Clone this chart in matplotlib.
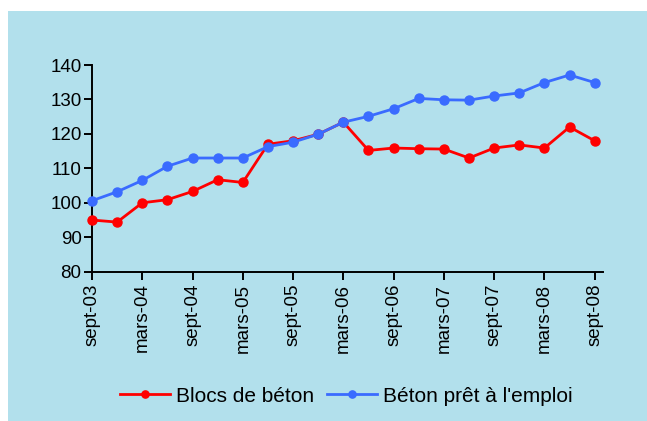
import matplotlib
matplotlib.use('Agg')
import matplotlib.pyplot as plt
from matplotlib.patches import Rectangle

plt.rcParams['font.family'] = ['Liberation Sans', 'DejaVu Sans']

# Quarterly periods, sept-03 .. sept-08
periods = ['sept-03', 'déc-03', 'mars-04', 'juin-04', 'sept-04', 'déc-04',
           'mars-05', 'juin-05', 'sept-05', 'déc-05', 'mars-06', 'juin-06',
           'sept-06', 'déc-06', 'mars-07', 'juin-07', 'sept-07', 'déc-07',
           'mars-08', 'juin-08', 'sept-08']
blocs = [95.0, 94.4, 100.0, 100.9, 103.3, 106.7, 105.9, 117.0, 118.0, 119.9,
         123.4, 115.2, 115.9, 115.7, 115.6, 113.0, 115.9, 116.8, 115.9, 122.0,
         118.0]
bpe = [100.6, 103.2, 106.5, 110.6, 113.0, 113.0, 113.0, 116.3, 117.6, 119.9,
       123.4, 125.1, 127.3, 130.3, 129.9, 129.8, 131.0, 131.9, 134.9, 137.1,
       134.9]
yticks = [80, 90, 100, 110, 120, 130, 140]

RED = '#FF0000'
BLUE = '#3A6BFF'
BG = '#B2E0EC'

fig = plt.figure(figsize=(6.47, 4.21), dpi=100)
fig.patch.set_facecolor('white')
fig.patches.append(Rectangle((7.5 / 647, 0), 1, 1 - 11 / 421,
                             transform=fig.transFigure, facecolor=BG,
                             edgecolor='none', zorder=-10))

ax = fig.add_axes([92 / 647, 1 - 271.7 / 421, (603 - 92) / 647, (271.7 - 65) / 421])
ax.set_facecolor('none')

x = list(range(len(periods)))
ax.plot(x, blocs, color=RED, lw=2, marker='o', ms=6.5, clip_on=False,
        label='Blocs de béton', zorder=3)
ax.plot(x, bpe, color=BLUE, lw=2, marker='o', ms=6.5, clip_on=False,
        label="Béton prêt à l'emploi", zorder=4)

ax.set_xlim(0, 20.33)
ax.set_ylim(80, 140)
ax.set_yticks(yticks)
ax.set_xticks(x[::2])
ax.set_xticklabels(periods[::2], rotation=90)
ax.tick_params(axis='both', labelsize=13.5, length=5.5, width=1.4, direction='out',
               colors='black')
ax.tick_params(axis='x', pad=3)
ax.tick_params(axis='y', pad=2)
for s in ['top', 'right']:
    ax.spines[s].set_visible(False)
for s in ['left', 'bottom']:
    ax.spines[s].set_linewidth(1.4)

fig.legend(loc='center', bbox_to_anchor=(346 / 647, 1 - 396 / 421), ncol=2,
           frameon=False, fontsize=15, handlelength=2.4, handletextpad=0.3,
           columnspacing=0.6, markerscale=0.8)

fig.savefig('out.png', dpi=100)
